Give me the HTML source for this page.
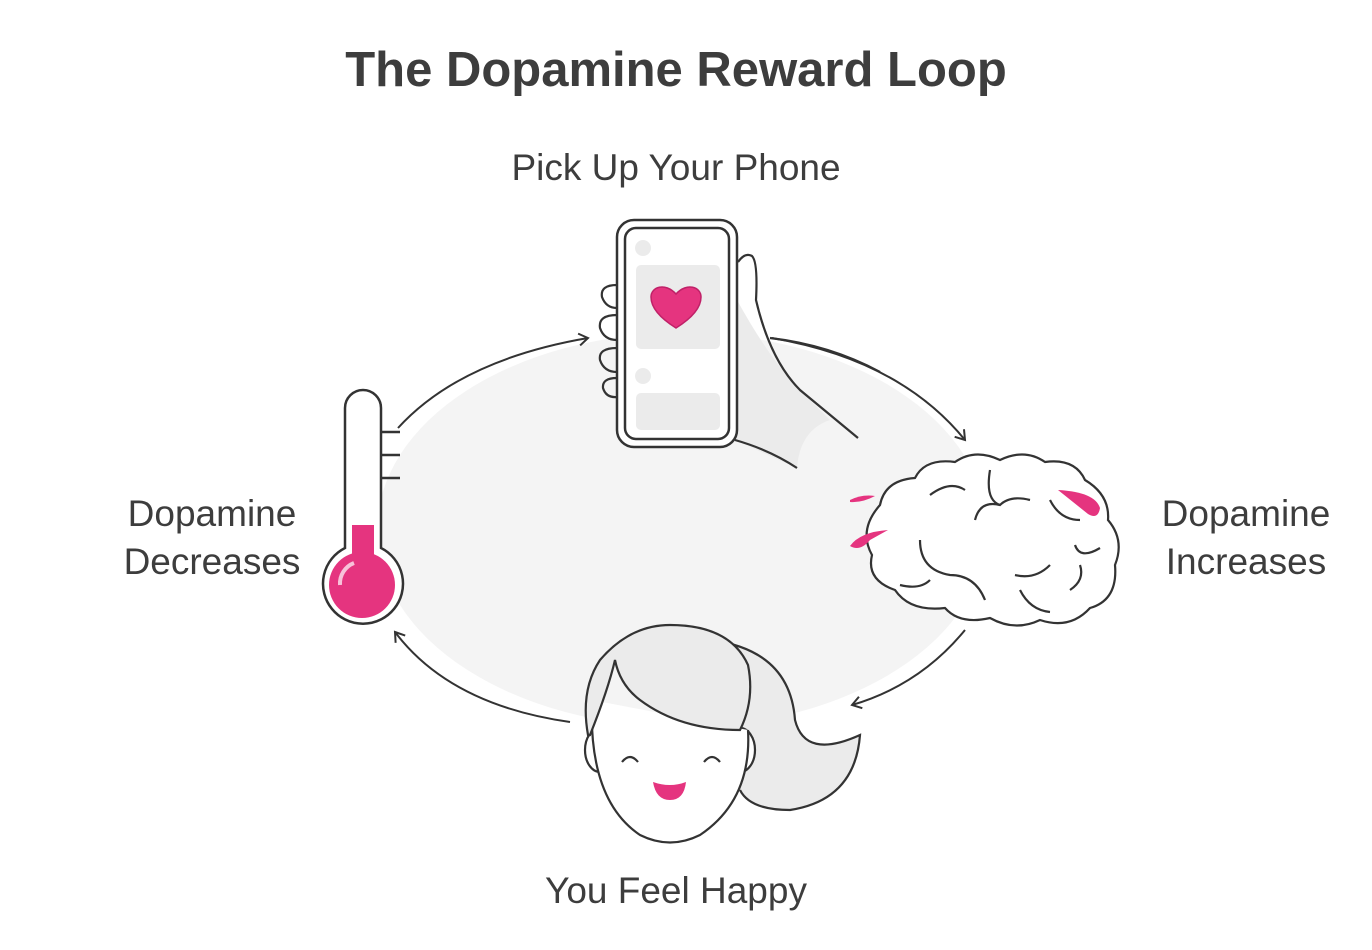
<!DOCTYPE html>
<html><head><meta charset="utf-8"><style>
body{margin:0;background:#fff;}
svg{display:block;font-family:"Liberation Sans",sans-serif;}
</style></head><body>
<svg width="1372" height="950" viewBox="0 0 1372 950">
<defs>
<marker id="ar" markerWidth="14" markerHeight="14" refX="11" refY="7" orient="auto" markerUnits="userSpaceOnUse">
<path d="M2,1 L11,7 L2,13" fill="none" stroke="#333" stroke-width="2"/>
</marker>
</defs>
<text x="676" y="86" text-anchor="middle" font-size="49" font-weight="bold" fill="#3d3d3d">The Dopamine Reward Loop</text>
<text x="676" y="180" text-anchor="middle" font-size="37" fill="#3d3d3d">Pick Up Your Phone</text>
<text x="212" y="526" text-anchor="middle" font-size="37" fill="#3d3d3d">Dopamine</text>
<text x="212" y="574" text-anchor="middle" font-size="37" fill="#3d3d3d">Decreases</text>
<text x="1246" y="526" text-anchor="middle" font-size="37" fill="#3d3d3d">Dopamine</text>
<text x="1246" y="574" text-anchor="middle" font-size="37" fill="#3d3d3d">Increases</text>
<text x="676" y="903" text-anchor="middle" font-size="37" fill="#3d3d3d">You Feel Happy</text>

<ellipse cx="682" cy="530" rx="305" ry="197" fill="#f4f4f4"/>

<g fill="none" stroke="#333" stroke-width="2">
<path d="M398,428 Q460,360 588,338" marker-end="url(#ar)"/>
<path d="M772,338 Q900,360 965,440" marker-end="url(#ar)"/>
<path d="M965,630 Q920,685 852,705" marker-end="url(#ar)"/>
<path d="M570,722 Q450,705 395,632" marker-end="url(#ar)"/>
</g>

<!-- thermometer -->
<g stroke="#333" stroke-width="2.5">
<path d="M345,408 a18,18 0 0 1 36,0 V548 a40,40 0 1 1 -36,0 Z" fill="#fff"/>
<line x1="381" y1="432" x2="400" y2="432"/><line x1="381" y1="455" x2="400" y2="455"/><line x1="381" y1="478" x2="400" y2="478"/>
</g>
<rect x="352" y="525" width="22" height="40" fill="#e5347f"/>
<circle cx="362" cy="585" r="33" fill="#e5347f"/>
<path d="M340,585 a22,22 0 0 1 14,-22" stroke="#fff" stroke-width="4" fill="none" opacity=".7"/>

<!-- hand -->
<path d="M737,300 Q770,360 800,390 L830,420 Q800,430 797,468 L735,440 Z" fill="#ebebeb"/>
<g stroke="#333" stroke-width="2.2" fill="#fff">
<path d="M738,262 Q745,252 752,256 Q758,262 756,300 Q770,360 800,390 L858,438" fill="none"/>
<path d="M770,338 Q830,345 880,372" fill="none"/>
<path d="M735,440 Q770,450 797,468" fill="none"/>
<path d="M617,285 Q600,285 602,297 Q606,308 617,308 M617,315 Q598,315 600,328 Q604,340 617,340 M617,348 Q598,348 600,360 Q604,372 617,372 M617,378 Q602,378 603,388 Q606,398 617,397" fill="none"/>
</g>
<!-- phone -->
<rect x="617" y="220" width="120" height="227" rx="17" fill="#fff" stroke="#333" stroke-width="2.5"/>
<rect x="625" y="228" width="104" height="211" rx="11" fill="#fff" stroke="#333" stroke-width="2.5"/>
<circle cx="643" cy="248" r="8" fill="#ebebeb"/>
<rect x="636" y="265" width="84" height="84" rx="5" fill="#ebebeb"/>
<circle cx="643" cy="376" r="8" fill="#ebebeb"/>
<rect x="636" y="393" width="84" height="37" rx="5" fill="#ebebeb"/>
<path d="M676,328 C660,318 651,308 651,297 C651,287 665,282 676,294 C687,282 701,287 701,297 C701,308 692,318 676,328 Z" fill="#e5347f" stroke="#c02168" stroke-width="1.5"/>

<!-- brain -->
<g stroke="#333" stroke-width="2.2">
<path d="M880,505 Q885,480 915,478 Q925,458 955,462 Q975,448 1000,460 Q1025,448 1045,462 Q1075,458 1085,480 Q1110,495 1108,520 Q1125,540 1115,565 Q1118,600 1090,608 Q1070,630 1040,620 Q1015,632 990,618 Q960,625 945,608 Q910,612 895,590 Q866,580 872,555 Q858,530 880,505 Z" fill="#fff"/>
<g fill="none">
<path d="M930,495 Q950,480 965,490"/><path d="M990,470 Q985,500 1000,505 Q1010,495 1030,500"/>
<path d="M975,520 Q980,500 1000,505"/><path d="M920,540 Q920,570 950,575 Q975,575 985,600"/>
<path d="M900,585 Q920,590 930,580"/><path d="M1050,500 Q1060,520 1080,520"/>
<path d="M1075,545 Q1080,560 1100,548"/><path d="M1015,575 Q1035,580 1050,565"/>
<path d="M1020,590 Q1030,610 1050,612"/><path d="M1080,565 Q1085,580 1070,590"/>
</g></g>
<path d="M1058,490 Q1095,492 1100,508 Q1098,520 1088,514 Z" fill="#e5347f"/>
<path d="M850,500 Q862,494 875,496 Q862,503 850,502 Z" fill="#e5347f"/>
<path d="M888,530 Q860,532 850,546 Q860,552 870,540 Z" fill="#e5347f"/>

<!-- face -->
<g stroke="#333" stroke-width="2.2">
<path d="M710,640 Q790,650 795,720 Q805,760 860,735 Q855,800 790,810 Q750,810 740,790" fill="#ebebeb"/>
<ellipse cx="600" cy="750" rx="15" ry="22" fill="#fff"/>
<ellipse cx="740" cy="750" rx="15" ry="22" fill="#fff"/>
<path d="M592,700 Q588,800 640,835 Q670,850 700,835 Q752,800 748,730" fill="#fff"/>
<path d="M588,735 Q580,690 600,660 Q630,625 670,625 Q730,625 748,665 Q755,700 740,730 Q680,730 640,700 Q620,685 615,660 Q608,690 590,735 Z" fill="#ebebeb"/>
<g fill="none"><path d="M622,762 Q630,752 638,762"/><path d="M704,762 Q712,752 720,762"/></g>
</g>
<path d="M653,782 Q670,788 686,782 Q684,800 670,800 Q656,800 653,782 Z" fill="#e5347f"/>
</svg>
</body></html>
